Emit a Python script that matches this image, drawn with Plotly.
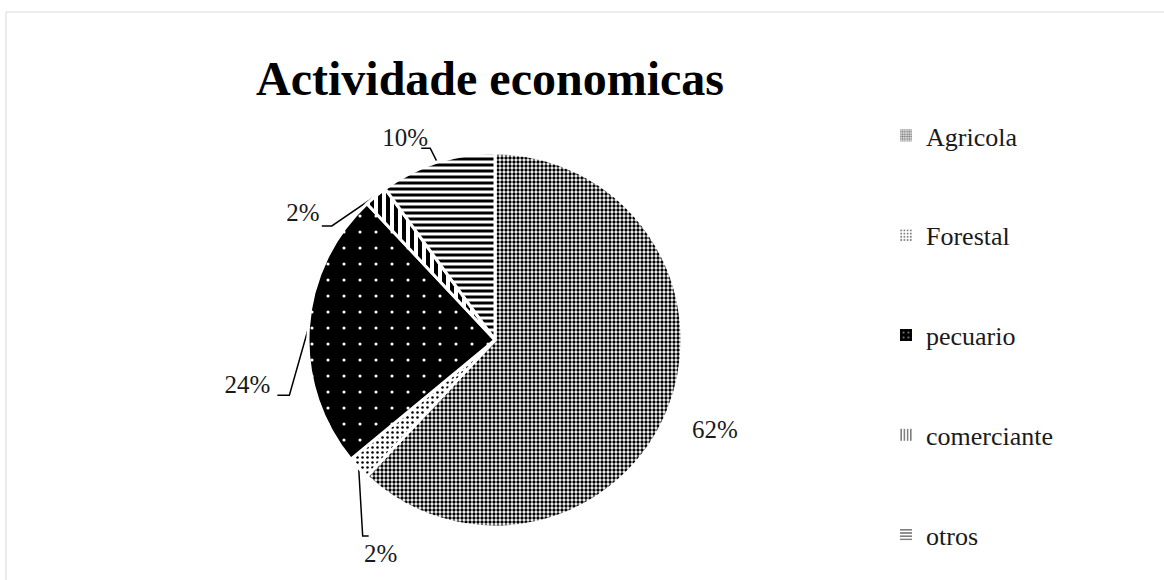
import numpy as np
import plotly.graph_objects as go

# ---------------- data ----------------
categories = ["Agricola", "Forestal", "pecuario", "comerciante", "otros"]
values = [62, 2, 24, 2, 10]
title_text = "Actividade economicas"

# ---------------- layout constants ----------------
W, H = 1164, 580
CX, CY, R = 495, 340, 187
SERIF = "Times New Roman, Liberation Serif, DejaVu Serif, serif"

pat_shape = [".", ".", ".", "|", "-"]
pat_fg = ["black", "black", "white", "black", "black"]
pat_bg = ["white", "white", "black", "white", "white"]
pat_size = [4, 5, 16, 8, 6]
pat_solid = [0.55, 0.2, 0.03, 0.5, 0.5]

# label offsets relative to slice edge anchor (pixels), leader elbow/end relative to label
label_off = [(46, 23), (22, 88), (-61, 58), (-73, 19), (-32, -22)]
leader = [None, ((-18, -20), (-12, -20)), ((42, 9), (30, 9)), ((29, 11), (19, 11)), ((25, 8), (16, 8))]

vals = np.array(values, dtype=float)
total = vals.sum()
mid = np.cumsum(vals) - vals / 2
theta = 2 * np.pi * mid / total
anc_x = CX + R * np.sin(theta)
anc_y = CY - R * np.cos(theta)

lab_x = [anc_x[i] + label_off[i][0] for i in range(len(values))]
lab_y = [anc_y[i] + label_off[i][1] for i in range(len(values))]
pct = [f"{round(v / total * 100)}%" for v in vals]

lx, ly = [], []
for i, ld in enumerate(leader):
    if ld is None:
        continue
    (ex, ey), (tx, ty) = ld
    lx += [anc_x[i], lab_x[i] + ex, lab_x[i] + tx, None]
    ly += [anc_y[i], lab_y[i] + ey, lab_y[i] + ty, None]

fig = go.Figure()

fig.add_trace(go.Pie(
    labels=categories, values=values, sort=False, direction="clockwise", rotation=0,
    textinfo="none", hoverinfo="label+percent", showlegend=False,
    domain=dict(x=[(CX - R) / W, (CX + R) / W], y=[(H - CY - R) / H, (H - CY + R) / H]),
    marker=dict(colors=pat_bg, line=dict(color="white", width=3),
                pattern=dict(shape=pat_shape, fgcolor=pat_fg, bgcolor=pat_bg,
                             size=pat_size, solidity=pat_solid, fillmode="replace")),
))

fig.add_trace(go.Scatter(x=lx, y=ly, mode="lines", line=dict(color="black", width=1.5),
                         hoverinfo="skip", showlegend=False))
fig.add_trace(go.Scatter(x=lab_x, y=lab_y, mode="text", text=pct, textposition="middle center",
                         textfont=dict(family=SERIF, size=25, color="#1a1a1a"),
                         hoverinfo="skip", showlegend=False))

# legend entries (pattern swatches)
leg_size = [3, 4, 6, 4, 4]
leg_solid = [0.6, 0.3, 0.15, 0.5, 0.5]
for i, c in enumerate(categories):
    fig.add_trace(go.Bar(
        x=[-1000], y=[0], name=c, legendgroup=c, showlegend=True, hoverinfo="skip",
        marker=dict(color=pat_bg[i], line=dict(width=0),
                    pattern=dict(shape=pat_shape[i], fgcolor=pat_fg[i], bgcolor=pat_bg[i],
                                 size=leg_size[i], solidity=leg_solid[i])),
    ))

fig.add_shape(type="rect", xref="x", yref="y", x0=6, y0=12, x1=W + 40, y1=H + 40,
              line=dict(color="#d9d9d9", width=1), fillcolor="rgba(0,0,0,0)", layer="below")

fig.update_layout(
    width=W, height=H, margin=dict(l=0, r=0, t=0, b=0),
    paper_bgcolor="white", plot_bgcolor="rgba(0,0,0,0)",
    xaxis=dict(range=[0, W], visible=False, domain=[0, 1], fixedrange=True),
    yaxis=dict(range=[H, 0], visible=False, domain=[0, 1], fixedrange=True),
    title=dict(text=f"<b>{title_text}</b>", x=490 / W, y=1 - 78 / H, xanchor="center", yanchor="middle",
               font=dict(family=SERIF, size=48, color="black")),
    legend=dict(x=886 / W, y=1 - 112 / H, xanchor="left", yanchor="top",
                font=dict(family=SERIF, size=26, color="#1a1a1a"),
                tracegroupgap=63, itemwidth=30, bgcolor="rgba(0,0,0,0)"),
    barmode="overlay",
)

fig.write_html("out.html", config={"displayModeBar": False},
               post_script="document.body.style.margin='0';document.body.style.overflow='hidden';")
